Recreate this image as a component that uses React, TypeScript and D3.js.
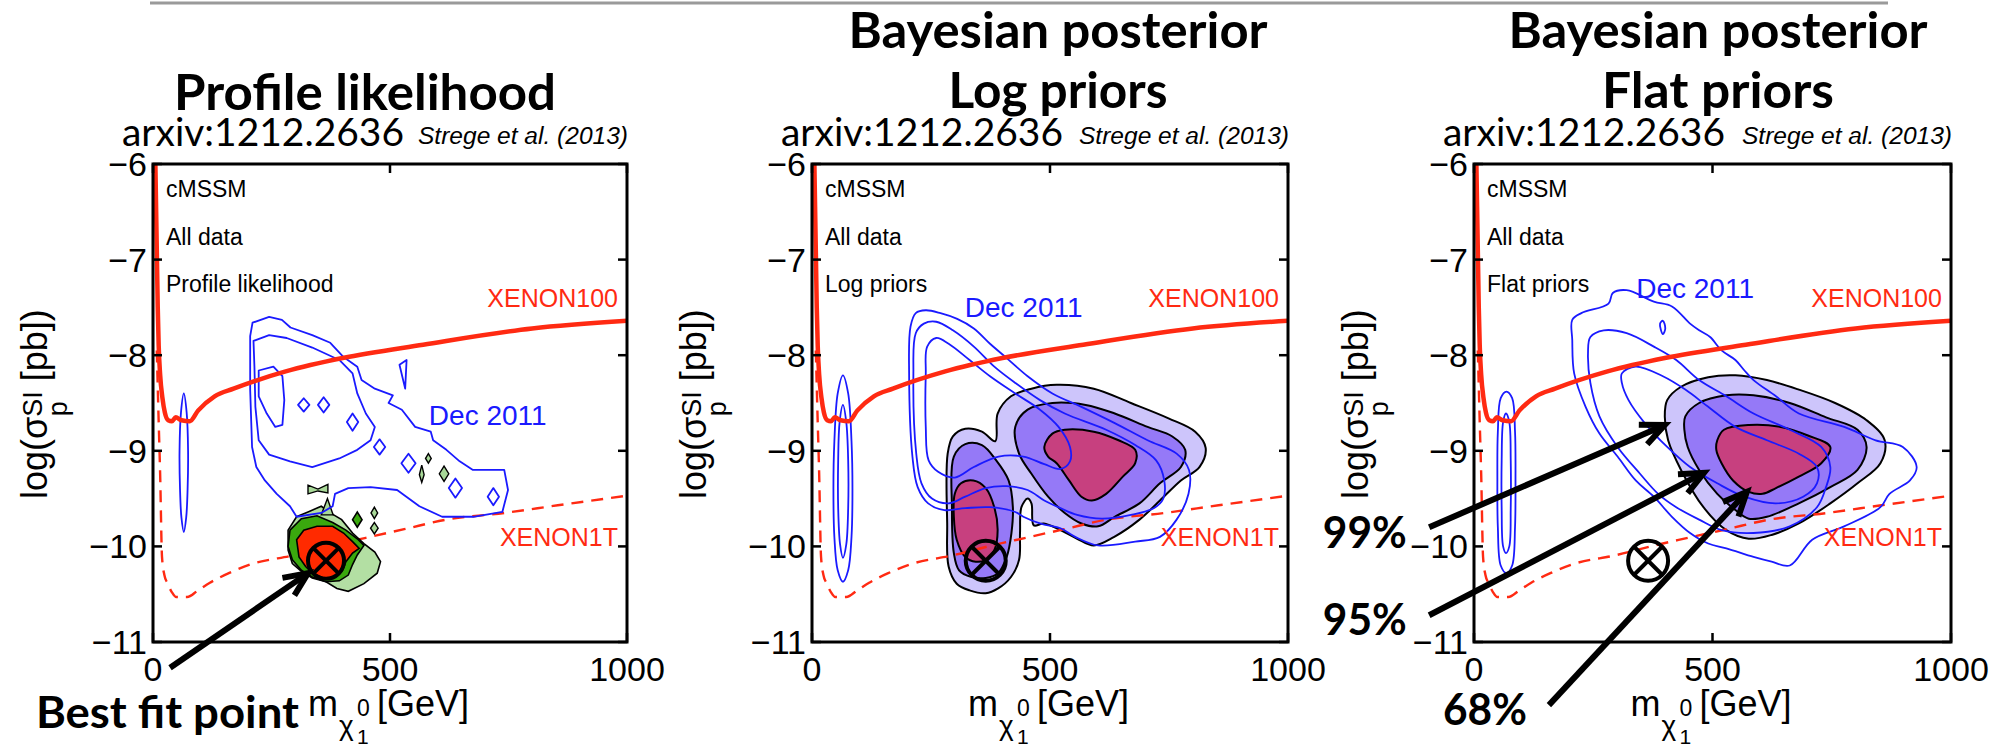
import React from 'react';
import * as d3 from 'd3';

type Pt = [number, number];

// axis ticks
const xTicks = [0, 500, 1000];
const yTicks = [-6, -7, -8, -9, -10, -11];

// exclusion limits: [m (GeV), log10 sigma (pb)]
const xenon100: Pt[] = [
  [5, -6.0], [8, -6.9], [10, -7.5], [12, -7.9], [15, -8.2], [20, -8.45], [25, -8.6],
  [32, -8.68], [40, -8.69], [48, -8.65], [60, -8.68], [78, -8.69], [95, -8.58],
  [130, -8.43], [170, -8.35], [280, -8.17], [400, -8.03], [570, -7.89], [800, -7.72], [1000, -7.64],
];
const xenon1t: Pt[] = [
  [8, -7.95], [12, -8.7], [15, -9.23], [19, -10.11], [24, -10.3], [30, -10.38], [40, -10.48],
  [49, -10.53], [72, -10.53], [95, -10.46], [120, -10.38], [160, -10.28], [205, -10.19],
  [299, -10.09], [370, -10.0], [449, -9.91], [530, -9.82], [619, -9.72], [741, -9.65],
  [854, -9.57], [1000, -9.47],
];
const bestFit: Pt = [365, -10.15];

// ---- panel 1: profile likelihood ----
const plDecOuter: Pt[] = [
  [205, -7.8], [210, -7.66], [245, -7.6], [272, -7.63], [290, -7.71], [336, -7.79], [374, -7.87],
  [402, -8.02], [431, -8.12], [440, -8.26], [468, -8.35], [506, -8.42], [497, -8.5], [525, -8.57],
  [553, -8.75], [586, -8.8], [591, -8.89], [619, -8.99], [647, -9.11], [675, -9.2], [741, -9.2],
  [749, -9.41], [737, -9.64], [676, -9.69], [610, -9.69], [562, -9.58], [515, -9.41], [459, -9.38],
  [412, -9.39], [384, -9.45], [379, -9.58], [355, -9.65], [303, -9.69], [289, -9.58], [261, -9.45],
  [236, -9.31], [218, -9.17], [209, -8.96], [205, -8.36],
];
const plDecMid: Pt[] = [
  [212, -7.85], [245, -7.79], [282, -7.82], [336, -7.92], [393, -8.05], [421, -8.19], [431, -8.4],
  [449, -8.61], [468, -8.75], [459, -8.89], [431, -8.99], [393, -9.08], [336, -9.17], [289, -9.11],
  [245, -9.04], [223, -8.89], [216, -8.54], [214, -8.12],
];
const plDecInner: Pt[] = [
  [223, -8.16], [254, -8.12], [273, -8.22], [277, -8.47], [273, -8.73], [258, -8.75], [240, -8.61], [223, -8.43],
];
const plDecSpindle: Pt[] = [
  [65, -8.4], [71, -8.6], [74, -9.0], [73, -9.4], [70, -9.7], [65, -9.85], [60, -9.7], [57, -9.4], [56, -9.0], [59, -8.6],
];
const plDecIslands: Pt[][] = [
  [[306, -8.52], [318, -8.45], [330, -8.52], [318, -8.59]],
  [[348, -8.52], [360, -8.44], [372, -8.52], [360, -8.6]],
  [[409, -8.7], [421, -8.61], [433, -8.7], [421, -8.79]],
  [[466, -8.96], [478, -8.88], [490, -8.96], [478, -9.04]],
  [[524, -9.13], [539, -9.03], [554, -9.13], [539, -9.23]],
  [[624, -9.39], [638, -9.29], [652, -9.39], [638, -9.49]],
  [[706, -9.48], [718, -9.39], [730, -9.48], [718, -9.57]],
  [[520, -8.1], [535, -8.05], [532, -8.35]],
];
const plOuter: Pt[] = [
  [285, -9.83], [303, -9.69], [327, -9.64], [355, -9.58], [374, -9.65], [398, -9.72], [421, -9.86],
  [445, -9.97], [468, -10.06], [480, -10.16], [473, -10.28], [445, -10.39], [412, -10.47], [388, -10.44],
  [365, -10.37], [336, -10.33], [313, -10.26], [294, -10.18], [285, -10.04],
];
const plMid: Pt[] = [
  [289, -9.83], [313, -9.71], [346, -9.68], [379, -9.75], [407, -9.83], [431, -9.92], [445, -9.99],
  [431, -10.09], [421, -10.19], [412, -10.3], [393, -10.36], [365, -10.37], [336, -10.32], [313, -10.25],
  [294, -10.14], [285, -10.0],
];
const plInner: Pt[] = [
  [303, -9.93], [318, -9.83], [346, -9.79], [379, -9.79], [402, -9.86], [421, -9.95], [435, -10.02],
  [421, -10.07], [407, -10.16], [400, -10.25], [385, -10.32], [360, -10.33], [336, -10.28], [322, -10.21], [308, -10.11],
];
const plIslands: Pt[][] = [
  [[575, -9.08], [581, -9.03], [587, -9.08], [581, -9.13]],
  [[562, -9.25], [567, -9.15], [572, -9.25], [567, -9.33]],
  [[604, -9.24], [614, -9.16], [624, -9.24], [614, -9.32]],
  [[460, -9.65], [467, -9.59], [474, -9.65], [467, -9.71]],
  [[459, -9.81], [467, -9.75], [475, -9.81], [467, -9.87]],
  [[327, -9.36], [348, -9.4], [369, -9.35], [369, -9.44], [348, -9.42], [327, -9.45]],
  [[368, -9.5], [380, -9.67], [355, -9.67]],
];
const plIslandsDark: Pt[][] = [
  [[421, -9.72], [431, -9.64], [441, -9.72], [431, -9.8]],
];

// ---- panel 2: log priors ----
const logDecOuter: Pt[] = [
  [204, -8.19], [207, -7.7], [218, -7.56], [239, -7.53], [270, -7.56], [305, -7.62], [340, -7.72],
  [374, -7.88], [409, -8.03], [453, -8.22], [505, -8.4], [566, -8.54], [636, -8.71], [705, -8.89],
  [766, -9.03], [792, -9.2], [791, -9.45], [766, -9.72], [731, -9.9], [679, -9.95], [601, -9.99],
  [553, -9.9], [522, -9.81], [496, -9.78], [479, -9.76], [444, -9.69], [427, -9.64], [374, -9.59],
  [322, -9.6], [278, -9.62], [244, -9.55], [222, -9.38], [211, -9.06],
];
const logDecMid: Pt[] = [
  [213, -8.19], [218, -7.77], [235, -7.67], [261, -7.65], [296, -7.74], [340, -7.91], [383, -8.12],
  [427, -8.29], [479, -8.47], [531, -8.61], [618, -8.78], [679, -8.94], [723, -9.1], [740, -9.31],
  [738, -9.5], [718, -9.6], [670, -9.67], [609, -9.71], [557, -9.67], [522, -9.6], [488, -9.52],
  [453, -9.41], [409, -9.37], [365, -9.39], [322, -9.48], [287, -9.55], [252, -9.5], [230, -9.34], [219, -9.03],
];
const logDecInner: Pt[] = [
  [239, -8.19], [242, -7.91], [261, -7.82], [287, -7.88], [331, -8.05], [374, -8.22], [427, -8.4],
  [479, -8.57], [518, -8.75], [542, -8.96], [542, -9.11], [522, -9.19], [488, -9.14], [444, -9.06],
  [392, -9.06], [340, -9.17], [300, -9.28], [265, -9.22], [245, -9.1], [239, -8.75],
];
const logSpindleOuter: Pt[] = [
  [65, -8.21], [76, -8.4], [83, -8.9], [85, -9.4], [83, -9.9], [76, -10.25], [65, -10.37],
  [54, -10.25], [47, -9.9], [45, -9.4], [47, -8.9], [54, -8.4],
];
const logSpindleInner: Pt[] = [
  [65, -8.52], [72, -8.7], [76, -9.1], [76, -9.6], [72, -9.98], [65, -10.12],
  [59, -9.98], [55, -9.6], [55, -9.1], [58, -8.7],
];
const log99: Pt[] = [
  [285, -9.03], [296, -8.85], [322, -8.77], [357, -8.8], [385, -8.9], [390, -8.61], [418, -8.43],
  [461, -8.35], [514, -8.31], [592, -8.35], [670, -8.5], [749, -8.66], [805, -8.8], [827, -8.97],
  [814, -9.17], [775, -9.31], [731, -9.52], [688, -9.72], [635, -9.9], [592, -9.99], [557, -9.92],
  [522, -9.83], [487, -9.76], [466, -9.78], [461, -9.55], [453, -9.5], [440, -9.59], [437, -9.86],
  [435, -10.14], [418, -10.32], [391, -10.44], [365, -10.49], [331, -10.46], [304, -10.39],
  [287, -10.21], [284, -9.76],
];
const log95Left: Pt[] = [
  [298, -9.06], [322, -8.93], [357, -8.94], [387, -9.1], [413, -9.31], [422, -9.59], [419, -9.86],
  [409, -10.11], [391, -10.28], [365, -10.33], [335, -10.32], [309, -10.25], [298, -10.07], [294, -9.59],
];
const log68Left: Pt[] = [
  [300, -9.45], [313, -9.34], [339, -9.31], [365, -9.39], [383, -9.59], [390, -9.83], [383, -10.04],
  [365, -10.14], [344, -10.16], [322, -10.11], [304, -9.93], [298, -9.69],
];
const log95Right: Pt[] = [
  [427, -8.75], [453, -8.57], [505, -8.5], [575, -8.52], [636, -8.61], [705, -8.75], [757, -8.85],
  [784, -8.99], [775, -9.17], [731, -9.34], [688, -9.55], [636, -9.69], [601, -9.79], [566, -9.76],
  [531, -9.65], [496, -9.48], [461, -9.24], [435, -9.03],
];
const log68Right: Pt[] = [
  [488, -8.96], [505, -8.82], [531, -8.78], [592, -8.8], [644, -8.89], [679, -8.99], [679, -9.13],
  [653, -9.27], [618, -9.45], [588, -9.52], [566, -9.48], [540, -9.31], [514, -9.13], [496, -9.06],
];

// ---- panel 3: flat priors ----
const flatDecOuter: Pt[] = [
  [206, -7.63], [225, -7.56], [282, -7.46], [291, -7.35], [320, -7.32], [377, -7.44], [415, -7.49],
  [453, -7.67], [472, -7.74], [495, -7.81], [519, -7.95], [548, -8.05], [567, -8.16], [586, -8.26],
  [633, -8.43], [681, -8.61], [776, -8.75], [842, -8.89], [899, -8.96], [928, -9.17], [914, -9.31],
  [871, -9.45], [852, -9.59], [776, -9.79], [709, -9.93], [662, -10.2], [624, -10.16], [586, -10.11],
  [529, -10.02], [491, -9.97], [453, -9.86], [415, -9.69], [377, -9.48], [339, -9.31], [301, -9.06],
  [263, -8.82], [234, -8.54], [210, -8.19], [206, -7.84],
];
const flatDecMid: Pt[] = [
  [244, -7.81], [272, -7.74], [320, -7.77], [377, -7.91], [424, -8.05], [472, -8.26], [529, -8.43],
  [586, -8.61], [662, -8.78], [728, -8.96], [747, -9.17], [738, -9.38], [719, -9.59], [662, -9.79],
  [586, -9.86], [519, -9.83], [472, -9.72], [424, -9.59], [386, -9.45], [348, -9.24], [301, -8.96],
  [263, -8.64], [244, -8.29], [239, -7.98],
];
const flatDecInner: Pt[] = [
  [310, -8.19], [339, -8.12], [396, -8.22], [443, -8.36], [491, -8.54], [548, -8.75], [614, -8.89],
  [681, -9.03], [719, -9.17], [719, -9.34], [690, -9.48], [633, -9.55], [567, -9.48], [510, -9.34],
  [453, -9.17], [405, -8.96], [358, -8.71], [324, -8.47], [310, -8.29],
];
const flatDecIsle: Pt[] = [[390, -7.67], [396, -7.64], [401, -7.72], [396, -7.78]];
const flatSpindleOuter: Pt[] = [
  [68, -8.38], [80, -8.45], [86, -8.8], [87, -9.3], [86, -9.8], [80, -10.2], [68, -10.28],
  [56, -10.2], [50, -9.8], [49, -9.3], [50, -8.8], [56, -8.45],
];
const flatSpindleInner: Pt[] = [
  [67, -8.61], [74, -8.7], [77, -9.1], [77, -9.6], [74, -10.0], [67, -10.07],
  [61, -10.0], [58, -9.6], [58, -9.1], [61, -8.7],
];
const flat99: Pt[] = [
  [405, -8.47], [434, -8.33], [491, -8.23], [548, -8.21], [614, -8.26], [681, -8.36], [757, -8.5],
  [823, -8.68], [861, -8.89], [852, -9.13], [804, -9.34], [747, -9.55], [681, -9.76], [624, -9.88],
  [576, -9.92], [529, -9.83], [481, -9.59], [434, -9.2], [407, -8.89], [400, -8.64],
];
const flat95: Pt[] = [
  [443, -8.64], [472, -8.5], [529, -8.42], [586, -8.42], [662, -8.5], [738, -8.65], [804, -8.78],
  [823, -8.96], [804, -9.2], [747, -9.38], [681, -9.55], [614, -9.69], [576, -9.71], [548, -9.62],
  [510, -9.45], [472, -9.2], [448, -8.96], [441, -8.78],
];
const flat68: Pt[] = [
  [510, -8.89], [524, -8.78], [576, -8.73], [643, -8.75], [700, -8.84], [747, -8.96], [728, -9.13],
  [681, -9.27], [633, -9.39], [605, -9.45], [576, -9.43], [543, -9.31], [519, -9.13], [508, -8.99],
];

// panel texts
const titles = [['Profile likelihood'], ['Bayesian posterior', 'Log priors'], ['Bayesian posterior', 'Flat priors']];
const notes = [['cMSSM', 'All data', 'Profile likelihood'], ['cMSSM', 'All data', 'Log priors'], ['cMSSM', 'All data', 'Flat priors']];
const decLabelAt: Pt[] = [[582, -8.73], [321, -7.6], [340, -7.4]];

// annotations (panel data units)
const bestFitArrow: [Pt, Pt] = [[36, -11.27], [327, -10.28]];
const cred = ['99%', '95%', '68%'];
const credLabelAt: Pt[] = [[-317, -10.02], [-317, -10.93], [-65, -11.87]];
const credArrows: [Pt, Pt][] = [
  [[-94, -9.8], [400, -8.73]],
  [[-94, -10.72], [482, -9.23]],
  [[157, -11.66], [572, -9.43]],
];

const W = 2011, H = 749;
const TOP = 164, BOTTOM = 642;
const boxes = [{ x0: 153, x1: 627 }, { x0: 812, x1: 1288 }, { x0: 1474, x1: 1951 }];
const titleCx = [365, 1058, 1718];
const titleLens: Record<string, number> = {
  'Profile likelihood': 382, 'Bayesian posterior': 419, 'Log priors': 219, 'Flat priors': 232,
};

const PLOT_FONT = "'Liberation Sans', Arial, Helvetica, sans-serif";
const SLIDE_FONT = "Lato, 'Open Sans', sans-serif";
const BLUE = '#1a1aff';
const RED = '#ff2a12';

function Arrow({ a, b }: { a: [number, number]; b: [number, number] }) {
  const ang = Math.atan2(b[1] - a[1], b[0] - a[0]);
  const L = 26, s = 0.42;
  const p1 = [b[0] - L * Math.cos(ang - s), b[1] - L * Math.sin(ang - s)];
  const p2 = [b[0] - L * Math.cos(ang + s), b[1] - L * Math.sin(ang + s)];
  return (
    <g stroke="#000" strokeWidth={6} fill="none">
      <line x1={a[0]} y1={a[1]} x2={b[0] - 3 * Math.cos(ang)} y2={b[1] - 3 * Math.sin(ang)} />
      <polyline points={`${p1[0]},${p1[1]} ${b[0]},${b[1]} ${p2[0]},${p2[1]}`} strokeLinejoin="miter" />
    </g>
  );
}

function Panel({ i }: { i: number }) {
  const { x0, x1 } = boxes[i];
  const x = d3.scaleLinear().domain([0, 1000]).range([x0, x1]);
  const y = d3.scaleLinear().domain([-11, -6]).range([BOTTOM, TOP]);
  const smooth = d3.line<Pt>().x(d => x(d[0])).y(d => y(d[1])).curve(d3.curveCatmullRomClosed.alpha(0.5));
  const jag = d3.line<Pt>().x(d => x(d[0])).y(d => y(d[1])).curve(d3.curveLinearClosed);
  const limit = d3.line<Pt>().x(d => x(d[0])).y(d => y(d[1])).curve(d3.curveMonotoneX);
  const cx = (x0 + x1) / 2;
  const clip = `clip${i}`;

  const blue = (d: string, k: string) => (
    <path key={k} d={d} fill="none" stroke={BLUE} strokeWidth={1.8} strokeLinejoin="round" />
  );
  const filled = (pts: Pt[], fill: string, k: string, w = 2) => (
    <path key={k} d={smooth(pts) || ''} fill={fill} stroke="#000" strokeWidth={w} />
  );

  let decay: React.ReactNode[] = [];
  let fills: React.ReactNode[] = [];
  if (i === 0) {
    decay = [
      blue(jag(plDecOuter) || '', 'o'), blue(jag(plDecMid) || '', 'm'), blue(jag(plDecInner) || '', 'n'),
      blue(smooth(plDecSpindle) || '', 's'),
      ...plDecIslands.map((p, k) => blue(jag(p) || '', 'i' + k)),
    ];
    fills = [
      <path key="o" d={jag(plOuter) || ''} fill="#b3dfa3" stroke="#000" strokeWidth={1.6} />,
      <path key="m" d={jag(plMid) || ''} fill="#3aa80e" stroke="#000" strokeWidth={1.6} />,
      <path key="n" d={jag(plInner) || ''} fill="#ff2a00" stroke="#000" strokeWidth={1.6} />,
      ...plIslands.map((p, k) => <path key={'g' + k} d={jag(p) || ''} fill="#a8d898" stroke="#000" strokeWidth={1.4} />),
      ...plIslandsDark.map((p, k) => <path key={'d' + k} d={jag(p) || ''} fill="#3aa80e" stroke="#000" strokeWidth={1.6} />),
    ];
  } else if (i === 1) {
    decay = [logDecOuter, logDecMid, logDecInner, logSpindleOuter, logSpindleInner].map((p, k) =>
      blue(smooth(p) || '', 'b' + k));
    fills = [
      filled(log99, '#cdc5fb', 'a'),
      filled(log95Left, '#9579f7', 'b'), filled(log95Right, '#9579f7', 'c'),
      filled(log68Left, '#c7407f', 'd'), filled(log68Right, '#c7407f', 'e'),
    ];
  } else {
    decay = [flatDecOuter, flatDecMid, flatDecInner, flatSpindleOuter, flatSpindleInner, flatDecIsle].map((p, k) =>
      blue(smooth(p) || '', 'b' + k));
    fills = [filled(flat99, '#cdc5fb', 'a'), filled(flat95, '#9579f7', 'b'), filled(flat68, '#c7407f', 'c')];
  }

  const bx = x(bestFit[0]), by = y(bestFit[1]), r = i === 0 ? 18 : 20;

  return (
    <g>
      <defs>
        <clipPath id={clip}>
          <rect x={x0} y={TOP} width={x1 - x0} height={BOTTOM - TOP} />
        </clipPath>
      </defs>
      <g clipPath={`url(#${clip})`}>
        {i !== 0 && fills}
        <path d={limit(xenon1t) || ''} fill="none" stroke={RED} strokeWidth={2.4} strokeDasharray="12,8" />
        {i === 0 && fills}
        {decay}
        <path d={limit(xenon100) || ''} fill="none" stroke={RED} strokeWidth={4.5} strokeLinejoin="round" />
      </g>
      {/* frame and inward ticks */}
      <rect x={x0} y={TOP} width={x1 - x0} height={BOTTOM - TOP} fill="none" stroke="#000" strokeWidth={3} />
      <g stroke="#000" strokeWidth={2.5}>
        {xTicks.map(t => (
          <g key={'x' + t}>
            <line x1={x(t)} x2={x(t)} y1={BOTTOM} y2={BOTTOM - 9} />
            <line x1={x(t)} x2={x(t)} y1={TOP} y2={TOP + 9} />
          </g>
        ))}
        {yTicks.map(t => (
          <g key={'y' + t}>
            <line x1={x0} x2={x0 + 9} y1={y(t)} y2={y(t)} />
            <line x1={x1} x2={x1 - 9} y1={y(t)} y2={y(t)} />
          </g>
        ))}
      </g>
      <g fontFamily={PLOT_FONT} fontSize={34} fill="#000">
        {yTicks.map(t => (
          <text key={'yl' + t} x={x0 - 6} y={y(t) + 12} textAnchor="end">{'\u2212' + Math.abs(t)}</text>
        ))}
        {xTicks.map(t => (
          <text key={'xl' + t} x={x(t)} y={681} textAnchor="middle">{t}</text>
        ))}
      </g>
      {/* notes */}
      <g fontFamily={PLOT_FONT} fontSize={23} fill="#000">
        {notes[i].map((n, k) => (
          <text key={n + k} x={x0 + 13} y={TOP + 33 + k * 47.5}>{n}</text>
        ))}
      </g>
      <text x={x(decLabelAt[i][0])} y={y(decLabelAt[i][1])} fontFamily={PLOT_FONT} fontSize={28} fill={BLUE}>Dec 2011</text>
      <g fontFamily={PLOT_FONT} fontSize={25} fill={RED} textAnchor="end">
        <text x={x(981)} y={y(-7.5)}>XENON100</text>
        <text x={x(981)} y={y(-10.0)}>XENON1T</text>
      </g>
      {/* best fit marker */}
      <g stroke="#000" strokeWidth={4} fill="none">
        <circle cx={bx} cy={by} r={r} />
        <line x1={bx - r * 0.7} y1={by - r * 0.7} x2={bx + r * 0.7} y2={by + r * 0.7} />
        <line x1={bx - r * 0.7} y1={by + r * 0.7} x2={bx + r * 0.7} y2={by - r * 0.7} />
      </g>
      {/* axis labels */}
      <g fontFamily={PLOT_FONT} fill="#000">
        <text x={cx - 82} y={716} fontSize={36}>m</text>
        <text x={cx - 51} y={735} fontSize={28}>{'\u03c7'}</text>
        <text x={cx - 33} y={716} fontSize={23}>0</text>
        <text x={cx - 33} y={744} fontSize={21}>1</text>
        <text x={cx - 13} y={716} fontSize={36}>[GeV]</text>
      </g>
      <g transform={`translate(${x0 - 106},403) rotate(-90)`} fontFamily={PLOT_FONT} fill="#000">
        <text x={-96} y={0} fontSize={36}>
          {'log(\u03c3'}
          <tspan fontSize={27} dy={-5}>SI</tspan>
          <tspan fontSize={27} dx={-25} dy={25}>p</tspan>
          <tspan fontSize={36} dx={10} dy={-20}>{' [pb])'}</tspan>
        </text>
      </g>
      {/* slide titles */}
      <g fontFamily={SLIDE_FONT} fontWeight={700} fontSize={49} fill="#000" textAnchor="middle">
        {titles[i].map((t, k) => (
          <text key={t} x={titleCx[i]} y={titles[i].length === 1 ? 110 : 48 + k * 60}
            textLength={titleLens[t]} lengthAdjust="spacingAndGlyphs">{t}</text>
        ))}
      </g>
      <text x={x0 - 31} y={146} fontFamily={SLIDE_FONT} fontSize={38} textLength={282} lengthAdjust="spacingAndGlyphs">arxiv:1212.2636</text>
      <text x={x1 + 1} y={144} fontFamily={PLOT_FONT} fontStyle="italic" fontSize={23} textAnchor="end"
        textLength={210} lengthAdjust="spacingAndGlyphs">Strege et al. (2013)</text>
      {i === 0 && (
        <g>
          <Arrow a={[x(bestFitArrow[0][0]), y(bestFitArrow[0][1])]} b={[x(bestFitArrow[1][0]), y(bestFitArrow[1][1])]} />
          <text x={x(-247)} y={y(-11.9)} fontFamily={SLIDE_FONT} fontWeight={700} fontSize={44}
            textLength={263} lengthAdjust="spacingAndGlyphs">Best fit point</text>
        </g>
      )}
      {i === 2 && (
        <g>
          {credArrows.map((ar, k) => (
            <Arrow key={k} a={[x(ar[0][0]), y(ar[0][1])]} b={[x(ar[1][0]), y(ar[1][1])]} />
          ))}
          {cred.map((c, k) => (
            <text key={c} x={x(credLabelAt[k][0])} y={y(credLabelAt[k][1])} fontFamily={SLIDE_FONT}
              fontWeight={700} fontSize={44} textLength={84} lengthAdjust="spacingAndGlyphs">{c}</text>
          ))}
        </g>
      )}
    </g>
  );
}

export default function App() {
  return (
    <svg width={W} height={H} style={{ position: 'absolute', left: 0, top: 0, background: '#fff' }}>
      <rect width={W} height={H} fill="#fff" />
      <line x1={150} x2={1888} y1={3} y2={3} stroke="#9a9a9a" strokeWidth={3} />
      {[0, 1, 2].map(i => <Panel key={i} i={i} />)}
    </svg>
  );
}
